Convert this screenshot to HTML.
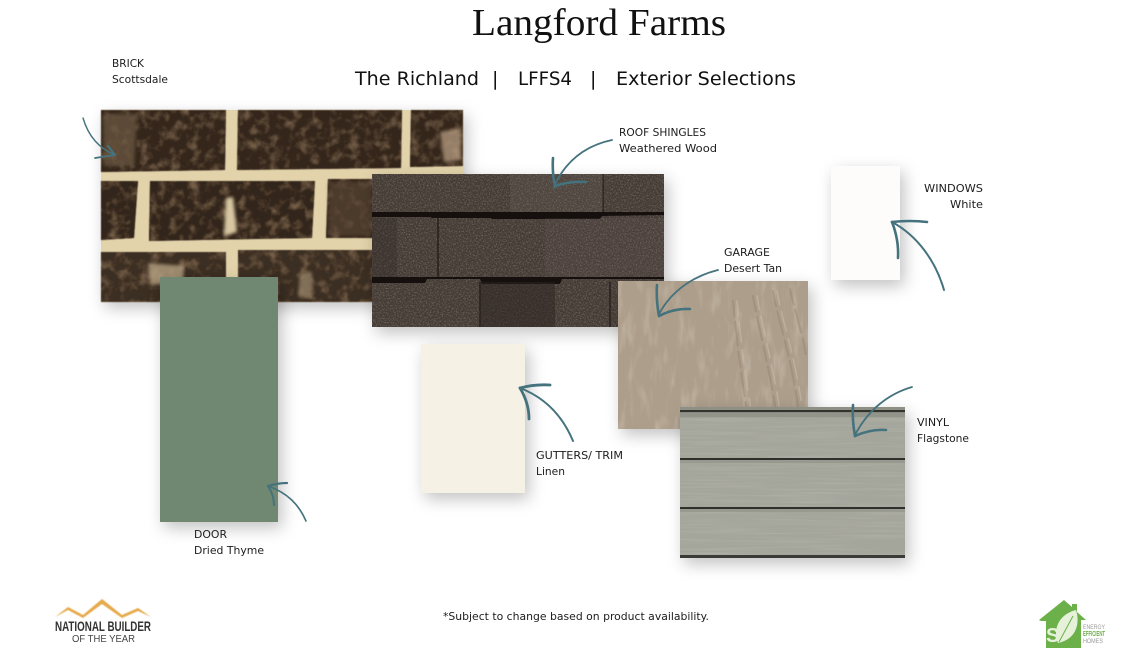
<!DOCTYPE html>
<html><head><meta charset="utf-8"><style>
html,body{margin:0;padding:0;background:#fff;width:1143px;height:656px;overflow:hidden}
text{font-family:"DejaVu Sans",sans-serif;fill:#1c1c1c}
.l{font-size:10.5px}
.s{font-size:19px;fill:#111}
</style></head><body>
<svg width="1143" height="656" viewBox="0 0 1143 656" xmlns="http://www.w3.org/2000/svg" style="display:block">
<defs>
<filter id="sh" x="-25%" y="-25%" width="155%" height="155%"><feDropShadow dx="4" dy="6" stdDeviation="8" flood-color="#000" flood-opacity=".24"/></filter>
<filter id="brickTex" x="0" y="0" width="100%" height="100%" color-interpolation-filters="sRGB">
<feTurbulence type="fractalNoise" baseFrequency=".1" numOctaves="4" seed="4"/>
<feColorMatrix values="0 0 0 0 .46  0 0 0 0 .37  0 0 0 0 .28  2.6 0 0 0 -1.2"/>
<feComposite in2="SourceGraphic" operator="atop"/>
<feMerge><feMergeNode in="SourceGraphic"/><feMergeNode/></feMerge>
</filter>
<filter id="grain" x="0" y="0" width="100%" height="100%">
<feTurbulence type="fractalNoise" baseFrequency=".7" numOctaves="2" seed="7"/>
<feColorMatrix values="0 0 0 0 .58  0 0 0 0 .54  0 0 0 0 .5  1.6 0 0 0 -.72"/>
</filter>
<filter id="wood" x="0" y="0" width="100%" height="100%">
<feTurbulence type="fractalNoise" baseFrequency=".12 .03" numOctaves="3" seed="11"/>
<feColorMatrix values="0 0 0 0 .84  0 0 0 0 .78  0 0 0 0 .68  2 0 0 0 -1"/>
</filter>
<filter id="sid" x="0" y="0" width="100%" height="100%">
<feTurbulence type="fractalNoise" baseFrequency=".012 .5" numOctaves="2" seed="3"/>
<feColorMatrix values="0 0 0 0 .74  0 0 0 0 .74  0 0 0 0 .71  1.2 0 0 0 -.5"/>
</filter>
<filter id="b1"><feGaussianBlur stdDeviation=".6"/></filter>
<filter id="b2"><feGaussianBlur stdDeviation="1.5"/></filter>
</defs>

<text x="472" y="35" style="font-family:'Liberation Serif',serif;font-size:38px;fill:#111" textLength="254" lengthAdjust="spacingAndGlyphs">Langford Farms</text>
<text class="s" x="355" y="85" textLength="124" lengthAdjust="spacingAndGlyphs">The Richland</text>
<text class="s" x="492" y="85">|</text>
<text class="s" x="518" y="85" textLength="54" lengthAdjust="spacingAndGlyphs">LFFS4</text>
<text class="s" x="590" y="85">|</text>
<text class="s" x="616" y="85" textLength="180" lengthAdjust="spacingAndGlyphs">Exterior Selections</text>

<!-- brick -->
<g filter="url(#sh)"><rect x="101" y="110" width="362" height="192" fill="#e3d3ab"/></g>
<g filter="url(#b1)">
<g filter="url(#brickTex)">
<path d="M101 110H226L225 170L101 172Z M238 110H402L401 168L237 170Z M411 110H463V166L410 167Z" fill="#35271c"/>
<path d="M101 181H138L134 238L101 240Z M150 181H315L312 238L149 241Z M328 179H463V238L326 238Z" fill="#33251a"/>
<path d="M101 252H226L226 302H101Z M238 250H463V302H238Z" fill="#3b2d21"/>
</g>
<g filter="url(#b2)">
<path d="M103 114H137L134 166H104Z" fill="#6a5640" opacity=".75"/>
<path d="M440 132L461 128L461 160L444 162Z" fill="#b59c80" opacity=".75"/>
<path d="M148 263L184 266L183 282L150 285Z" fill="#b7a282" opacity=".8"/>
<path d="M300 274L312 272L312 298L298 296Z" fill="#a08b70" opacity=".7"/>
<path d="M226 198L233 197L237 232L224 236Z" fill="#d8c7a2"/>
<path d="M329 182H372V236H328Z" fill="#574534" opacity=".7"/>
</g>
</g>

<!-- door -->
<rect x="160" y="277" width="118" height="245" fill="#6f8772" filter="url(#sh)"/>

<!-- roof -->
<rect x="372" y="174" width="292" height="153" fill="#443a35" filter="url(#sh)"/>
<svg x="372" y="174" width="292" height="153" viewBox="0 0 292 153">
<rect width="292" height="153" filter="url(#grain)" opacity=".55"/>
<path d="M0 38H292V41L230 42L228 45H120L118 44H60L58 43H0Z M0 103H292V105L190 105L188 110H110L108 105H55L53 109H0Z" fill="#15100e"/>
<path d="M231 0V38M66 44V103M108 108V153M238 108V153" stroke="#1f1815" stroke-width="1.2"/>
<rect x="108" y="108" width="75" height="45" fill="#2b2421" opacity=".5"/>
<rect x="138" y="0" width="93" height="38" fill="#7a6f68" opacity=".2"/>
<rect x="0" y="44" width="25" height="59" fill="#2b2421" opacity=".3"/>
<rect x="173" y="44" width="119" height="59" fill="#7a6f68" opacity=".12"/>
</svg>

<!-- gutter -->
<rect x="421" y="344" width="104" height="149" fill="#f6f1e5" filter="url(#sh)"/>

<!-- window -->
<rect x="831" y="166" width="69" height="114" fill="#fdfcfb" filter="url(#sh)"/>

<!-- garage -->
<rect x="618" y="281" width="190" height="148" fill="#ad9e8b" filter="url(#sh)"/>
<svg x="618" y="281" width="190" height="148" viewBox="0 0 190 148">
<rect width="190" height="148" filter="url(#wood)" opacity=".35"/>
<g fill="none" stroke="#8b7d6b" stroke-width="2" opacity=".38" stroke-linecap="round" stroke-dasharray="16 5 24 6">
<path d="M115 20C118 50 122 90 130 135M135 15C140 45 150 80 158 130M155 10C160 40 172 70 180 125M172 8C178 35 184 50 188 75"/>
</g>
<g fill="none" stroke="#cfc3b0" stroke-width="1.6" opacity=".45" stroke-linecap="round" stroke-dasharray="14 7 20 8">
<path d="M119 20C122 50 126 90 134 135M139 15C144 45 154 80 162 130M159 10C164 40 176 70 184 125"/>
</g>
</svg>

<!-- vinyl -->
<rect x="680" y="407" width="225" height="151" fill="#a4a59b" filter="url(#sh)"/>
<svg x="680" y="407" width="225" height="151" viewBox="0 0 225 151">
<rect width="225" height="151" filter="url(#sid)" opacity=".3"/>
<rect y="0" width="225" height="3" fill="#8e9086"/>
<rect y="3" width="225" height="2.2" fill="#33332e"/>
<rect y="5.2" width="225" height="5" fill="#8a8c81" opacity=".7"/>
<rect y="51" width="225" height="2" fill="#2f2f2b"/>
<rect y="53" width="225" height="3" fill="#8a8c81" opacity=".5"/>
<rect y="100" width="225" height="2" fill="#2f2f2b"/>
<rect y="102" width="225" height="3" fill="#8a8c81" opacity=".5"/>
<rect y="148" width="225" height="3" fill="#3a3a36"/>
</svg>

<!-- arrows -->
<g fill="none" stroke="#44727d" stroke-linecap="round" stroke-linejoin="round">
<path d="M83 118C88 135 98 148 115 155" stroke-width="1.4"/>
<path d="M115 155L95 158" stroke-width="1.8"/><path d="M115 155L108 146" stroke-width="2.2"/>
<path d="M612 140C588 145 568 158 555 184" stroke-width="1.8"/>
<path d="M555 187Q552 172 553 158" stroke-width="2.6"/><path d="M555 186Q570 181 586 182" stroke-width="2.6"/>
<path d="M944 290C936 262 918 236 892 222" stroke-width="2"/>
<path d="M892 222Q910 220 927 222" stroke-width="2.6"/><path d="M892 222Q899 240 898 258" stroke-width="2.6"/>
<path d="M718 270C694 276 672 290 659 314" stroke-width="1.8"/>
<path d="M659 316Q656 300 657 285" stroke-width="2.6"/><path d="M659 316Q674 308 690 309" stroke-width="2.6"/>
<path d="M573 441C563 417 546 398 520 388" stroke-width="2"/>
<path d="M520 388Q535 384 550 385" stroke-width="2.8"/><path d="M520 388Q529 403 529 419" stroke-width="2.8"/>
<path d="M912 387C888 394 868 410 855 435" stroke-width="1.8"/>
<path d="M855 436Q852 420 853 405" stroke-width="2.6"/><path d="M855 436Q870 429 886 430" stroke-width="2.6"/>
<path d="M306 521C299 505 288 493 268 486" stroke-width="1.6"/>
<path d="M268 486Q278 483 287 483" stroke-width="2.2"/><path d="M268 486Q274 495 274 505" stroke-width="2"/>
</g>

<!-- labels -->
<text class="l" x="112" y="67" textLength="32" lengthAdjust="spacingAndGlyphs">BRICK</text>
<text class="l" x="112" y="83" textLength="56" lengthAdjust="spacingAndGlyphs">Scottsdale</text>
<text class="l" x="619" y="136" textLength="87" lengthAdjust="spacingAndGlyphs">ROOF SHINGLES</text>
<text class="l" x="619" y="152" textLength="98" lengthAdjust="spacingAndGlyphs">Weathered Wood</text>
<text class="l" x="924" y="192" textLength="59" lengthAdjust="spacingAndGlyphs">WINDOWS</text>
<text class="l" x="950" y="208" textLength="33" lengthAdjust="spacingAndGlyphs">White</text>
<text class="l" x="724" y="256" textLength="46" lengthAdjust="spacingAndGlyphs">GARAGE</text>
<text class="l" x="724" y="272" textLength="58" lengthAdjust="spacingAndGlyphs">Desert Tan</text>
<text class="l" x="917" y="426" textLength="32" lengthAdjust="spacingAndGlyphs">VINYL</text>
<text class="l" x="917" y="442" textLength="52" lengthAdjust="spacingAndGlyphs">Flagstone</text>
<text class="l" x="536" y="459" textLength="87" lengthAdjust="spacingAndGlyphs">GUTTERS/ TRIM</text>
<text class="l" x="536" y="475" textLength="29" lengthAdjust="spacingAndGlyphs">Linen</text>
<text class="l" x="194" y="538" textLength="33" lengthAdjust="spacingAndGlyphs">DOOR</text>
<text class="l" x="194" y="554" textLength="70" lengthAdjust="spacingAndGlyphs">Dried Thyme</text>
<text x="443" y="620" style="font-size:11px" textLength="266" lengthAdjust="spacingAndGlyphs">*Subject to change based on product availability.</text>

<!-- NBOTY logo -->
<path d="M55 617L68 607L83 615L102 599L122 615L138 608L151 617L138 611L122 618L102 604L83 618L68 610Z" fill="#e5a948" filter="url(#b1)"/>
<text x="55" y="631" style="font-family:'Liberation Sans',sans-serif;font-size:14px;font-weight:bold;fill:#333" textLength="96" lengthAdjust="spacingAndGlyphs">NATIONAL BUILDER</text>
<text x="72" y="642" style="font-family:'Liberation Sans',sans-serif;font-size:10px;fill:#444" textLength="63" lengthAdjust="spacingAndGlyphs">OF THE YEAR</text>

<!-- Energy logo -->
<path d="M1039 620L1064 600L1072 607V604H1077V612L1086 620H1081V648H1046V621H1041Z" fill="#6cb04a"/>
<path d="M1058 643C1052 628 1060 614 1076 610C1081 626 1074 640 1058 643Z" fill="#e6f1da"/>
<path d="M1059 642L1073 616" stroke="#6cb04a" stroke-width="1"/>
<text x="1046" y="642" style="font-family:'Liberation Sans',sans-serif;font-size:20px;font-weight:bold;fill:#e6f1da">S</text>
<text x="1083" y="629" style="font-family:'Liberation Sans',sans-serif;font-size:6px;fill:#999" textLength="22" lengthAdjust="spacingAndGlyphs">ENERGY</text>
<text x="1083" y="636" style="font-family:'Liberation Sans',sans-serif;font-size:7px;font-weight:bold;fill:#6cb04a" textLength="22" lengthAdjust="spacingAndGlyphs">EFFICIENT</text>
<text x="1083" y="643" style="font-family:'Liberation Sans',sans-serif;font-size:6px;fill:#999" textLength="20" lengthAdjust="spacingAndGlyphs">HOMES</text>
</svg>
</body></html>
